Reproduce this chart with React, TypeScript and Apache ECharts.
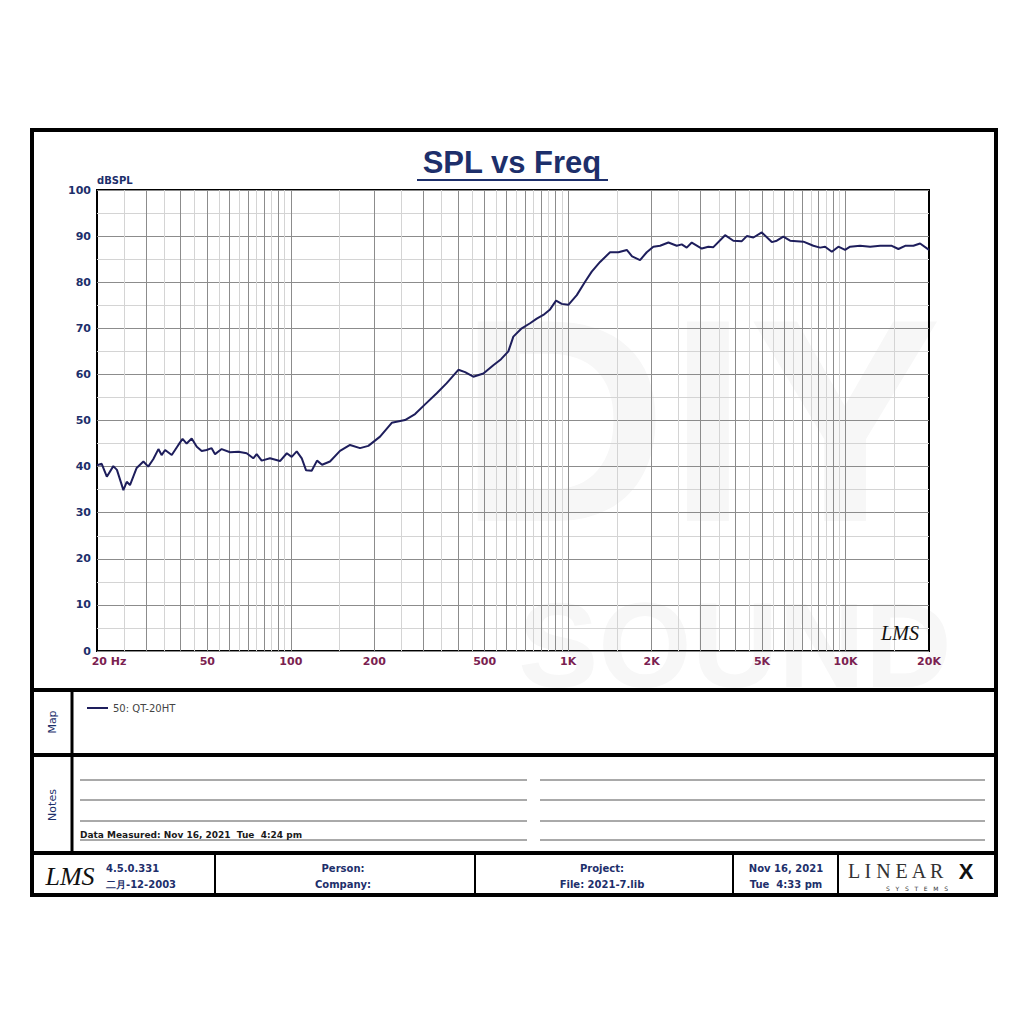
import React, { useEffect, useRef } from 'react';
import * as echarts from 'echarts';

// ---------- data ----------
const freqHz = [
  20, 20.8, 21.7, 22.9, 23.6, 24.9, 25.6, 26.3, 27.8, 29.4, 30.6, 31.9, 33.3, 34.2, 35.2, 37.2, 39.3, 40.7,
  42.1, 43.9, 45.8, 47.7, 49.7, 51.8, 53.3, 56.3, 60.4, 64.7, 69.3, 73.2, 75.3, 78.5, 84.1, 91.4, 96.7,
  100.7, 105, 109.5, 113.5, 118.9, 124.3, 129.6, 138.4, 150.4, 163.5, 177.6, 190.3, 209.7, 231.1, 258,
  280.5, 304.7, 335.8, 364.8, 401.8, 424.8, 455, 494.6, 537.2, 572.8, 608.5, 634.3, 680.1, 728.7, 770.3,
  813.8, 860.3, 904.2, 948.1, 1001.5, 1074, 1150.6, 1216, 1303, 1416, 1517, 1627, 1700, 1816, 1920, 2028,
  2145, 2298, 2463, 2567, 2676, 2790, 3032, 3202, 3338, 3679, 3941, 4227, 4406, 4654, 4989, 5422, 5651,
  5969, 6312, 7050, 7658, 8097, 8440, 8924, 9426, 9964, 10388, 11286, 12270, 13328, 14688, 15516, 16404,
  17568, 18574, 20000,
];
const splDb = [
  40.3, 40.6, 37.8, 40.1, 39.3, 34.9, 36.7, 36.0, 39.7, 41.1, 40.0, 41.6, 43.8, 42.5, 43.6, 42.5, 44.7, 46.0,
  45.0, 46.1, 44.3, 43.4, 43.6, 44.0, 42.7, 43.8, 43.1, 43.2, 42.9, 41.8, 42.7, 41.3, 41.8, 41.2, 42.9,
  42.1, 43.3, 41.8, 39.2, 39.1, 41.3, 40.4, 41.1, 43.4, 44.7, 44.0, 44.5, 46.5, 49.5, 50.1,
  51.4, 53.5, 55.9, 58.1, 61.0, 60.5, 59.5, 60.2, 62.0, 63.3, 65.0, 68.2, 70.0, 71.1, 72.1,
  72.9, 74.1, 76.0, 75.3, 75.1, 77.2, 80.1, 82.3, 84.4, 86.5, 86.5, 87.0, 85.6, 84.8, 86.5, 87.7,
  87.9, 88.6, 87.9, 88.2, 87.5, 88.6, 87.3, 87.7, 87.6, 90.2, 89.0, 88.9, 90.0, 89.7, 90.8, 88.7, 89.0,
  89.9, 89.0, 88.8, 87.9, 87.5, 87.7, 86.6, 87.7, 87.0, 87.7, 87.9, 87.7, 87.9, 87.9, 87.2, 87.9,
  87.9, 88.4, 87.0,
];
const seriesName = '50: QT-20HT';
const xTickValues = [20, 50, 100, 200, 500, 1000, 2000, 5000, 10000, 20000];
const xTickLabels = ['20 Hz', '50', '100', '200', '500', '1K', '2K', '5K', '10K', '20K'];
const gridDecades = [10, 100, 1000, 10000];
const majorMults = [1, 2, 3, 4, 5, 6, 7, 8, 9];
const minorMults = [1.5, 2.5, 3.5, 4.5, 5.5, 6.5, 7.5, 8.5, 9.5];
const xMin = 20;
const xMax = 20000;
const yMin = 0;
const yMax = 100;
const yStep = 10;

const NAVY = '#1d2f6b';
const MAROON = '#7a2150';
const CURVE = '#1e1e5c';
const SANS = '"DejaVu Sans", Verdana, sans-serif';
const ARIAL = '"Liberation Sans", Arial, sans-serif';
const SERIF = '"Liberation Serif", "DejaVu Serif", serif';

function txt(x: number, y: number, text: string, opts: any = {}) {
  return {
    type: 'text',
    x,
    y,
    rotation: opts.rotation || 0,
    z: opts.z ?? 10,
    silent: true,
    style: {
      text,
      fill: opts.fill || NAVY,
      fontSize: opts.fontSize || 10,
      fontWeight: opts.fontWeight || 'bold',
      fontStyle: opts.fontStyle || 'normal',
      fontFamily: opts.fontFamily || SANS,
      align: opts.align || 'left',
      verticalAlign: opts.verticalAlign || 'middle',
    },
  };
}
function ln(x1: number, y1: number, x2: number, y2: number, w: number, color = '#000') {
  return {
    type: 'line',
    z: 10,
    silent: true,
    shape: { x1, y1, x2, y2 },
    style: { stroke: color, lineWidth: w },
  };
}

export default function App() {
  const ref = useRef<HTMLDivElement>(null);
  useEffect(() => {
    const chart = echarts.init(ref.current!, null, { renderer: 'svg' });

    const gridLineData: any[] = [];
    gridDecades.forEach((d) => {
      majorMults.forEach((m) => {
        const f = d * m;
        if (f > xMin && f < xMax) gridLineData.push({ xAxis: f, lineStyle: { color: '#8c8c8c', width: 1, type: 'solid' } });
      });
      minorMults.forEach((m) => {
        const f = d * m;
        if (f > xMin && f < xMax) gridLineData.push({ xAxis: f, lineStyle: { color: '#d4d4d4', width: 1, type: 'solid' } });
      });
    });
    const labelData = xTickValues.map((v, i) => ({
      xAxis: v,
      lineStyle: { color: 'rgba(0,0,0,0)', width: 1 },
      label: {
        show: true,
        position: 'start',
        distance: 5,
        formatter: xTickLabels[i],
        color: MAROON,
        fontWeight: 'bold',
        fontSize: 11,
        fontFamily: SANS,
        padding: i === 0 ? [0, 0, 0, 24] : 0,
      },
    }));

    const notesY = [780, 800, 821, 840];
    const graphics: any[] = [
      // watermark
      { type: 'text', x: 700, y: 420, z: -1, silent: true, style: { text: 'DIY', fill: '#f7f7f7', fontSize: 290, fontWeight: 'bold', fontFamily: ARIAL, align: 'center', verticalAlign: 'middle' } },
      { type: 'text', x: 735, y: 645, z: -1, silent: true, style: { text: 'SOUND', fill: '#f7f7f7', fontSize: 120, fontWeight: 'bold', fontFamily: ARIAL, align: 'center', verticalAlign: 'middle' } },
      // outer frame
      { type: 'rect', z: 10, silent: true, shape: { x: 32, y: 130, width: 964, height: 765 }, style: { fill: 'none', stroke: '#000', lineWidth: 4 } },
      ln(32, 690, 996, 690, 4),
      ln(32, 755, 996, 755, 4),
      ln(32, 853, 996, 853, 4),
      ln(72, 690, 72, 853, 3),
      ln(215, 853, 215, 895, 2),
      ln(475, 853, 475, 895, 2),
      ln(733, 853, 733, 895, 2),
      ln(838, 853, 838, 895, 2),
      // title
      txt(512, 162, 'SPL vs Freq', { fontSize: 31, fontFamily: ARIAL, align: 'center', fill: NAVY }),
      ln(417, 180, 608, 180, 2, NAVY),
      txt(97, 180, 'dBSPL', { fontSize: 10, fill: NAVY }),
      // LMS mark in plot
      txt(900, 633, 'LMS', { fontSize: 20, fontFamily: SERIF, fontStyle: 'italic', fontWeight: 'normal', fill: '#111', align: 'center' }),
      // side labels
      txt(52, 722, 'Map', { rotation: Math.PI / 2, fontSize: 11, fontWeight: 'normal', align: 'center', fill: NAVY }),
      txt(52, 805, 'Notes', { rotation: Math.PI / 2, fontSize: 11, fontWeight: 'normal', align: 'center', fill: NAVY }),
      // notes lines
      ...notesY.map((y) => ln(80, y, 527, y, 1, '#555')),
      ...notesY.map((y) => ln(540, y, 985, y, 1, '#555')),
      txt(80, 835, 'Data Measured: Nov 16, 2021  Tue  4:24 pm', { fontSize: 9, fill: '#1a1a1a' }),
      // footer
      txt(70, 876, 'LMS', { fontSize: 26, fontFamily: SERIF, fontStyle: 'italic', fontWeight: 'normal', fill: '#111', align: 'center' }),
      txt(106, 868, '4.5.0.331', { fontSize: 10 }),
      txt(106, 884, '二月-12-2003', { fontSize: 10 }),
      txt(343, 868, 'Person:', { fontSize: 10, align: 'center' }),
      txt(343, 884, 'Company:', { fontSize: 10, align: 'center' }),
      txt(602, 868, 'Project:', { fontSize: 10, align: 'center' }),
      txt(602, 884, 'File: 2021-7.lib', { fontSize: 10, align: 'center' }),
      txt(786, 868, 'Nov 16, 2021', { fontSize: 10, align: 'center' }),
      txt(786, 884, 'Tue  4:33 pm', { fontSize: 10, align: 'center' }),
      txt(848, 871, 'L I N E A R', { fontSize: 20, fontFamily: SERIF, fontWeight: 'normal', fill: '#333' }),
      txt(966, 871, 'X', { fontSize: 22, fontFamily: ARIAL, fontWeight: 'bold', fill: '#111', align: 'center' }),
      txt(917, 888, 'S   Y   S   T   E   M   S', { fontSize: 6, fontFamily: SANS, fontWeight: 'normal', fill: '#333', align: 'center' }),
    ];

    const option: any = {
      animation: false,
      backgroundColor: '#ffffff',
      grid: { left: 97, right: 95, top: 190, bottom: 373, show: true, borderColor: '#000', borderWidth: 2, backgroundColor: 'transparent', containLabel: false },
      legend: {
        data: [seriesName],
        left: 82,
        top: 698,
        icon: 'rect',
        itemWidth: 21,
        itemHeight: 2,
        itemGap: 4,
        textStyle: { fontSize: 10, color: '#444', fontFamily: SANS },
      },
      xAxis: {
        type: 'log',
        logBase: 10,
        min: xMin,
        max: xMax,
        axisLine: { show: false },
        axisTick: { show: false },
        axisLabel: { show: false },
        splitLine: { show: false },
      },
      yAxis: {
        type: 'value',
        min: yMin,
        max: yMax,
        interval: yStep,
        axisLine: { show: false },
        axisTick: { show: false },
        axisLabel: { color: NAVY, fontWeight: 'bold', fontSize: 11, fontFamily: SANS, margin: 6 },
        splitLine: { show: true, lineStyle: { color: '#8c8c8c', width: 1 } },
        minorTick: { show: false, splitNumber: 2 },
        minorSplitLine: { show: true, lineStyle: { color: '#d4d4d4', width: 1 } },
      },
      graphic: graphics,
      series: [
        {
          type: 'line',
          name: 'grid',
          data: [],
          z: 1,
          silent: true,
          markLine: {
            silent: true,
            symbol: ['none', 'none'],
            animation: false,
            label: { show: false },
            data: [...gridLineData, ...labelData],
          },
        },
        {
          type: 'line',
          name: seriesName,
          z: 5,
          showSymbol: false,
          symbol: 'none',
          smooth: false,
          data: freqHz.map((f, i) => [f, splDb[i]]),
          lineStyle: { color: CURVE, width: 2 },
          itemStyle: { color: CURVE },
        },
      ],
    };
    chart.setOption(option);
    return () => chart.dispose();
  }, []);
  return <div ref={ref} style={{ position: 'fixed', left: 0, top: 0, width: 1024, height: 1024, background: '#fff' }} />;
}
